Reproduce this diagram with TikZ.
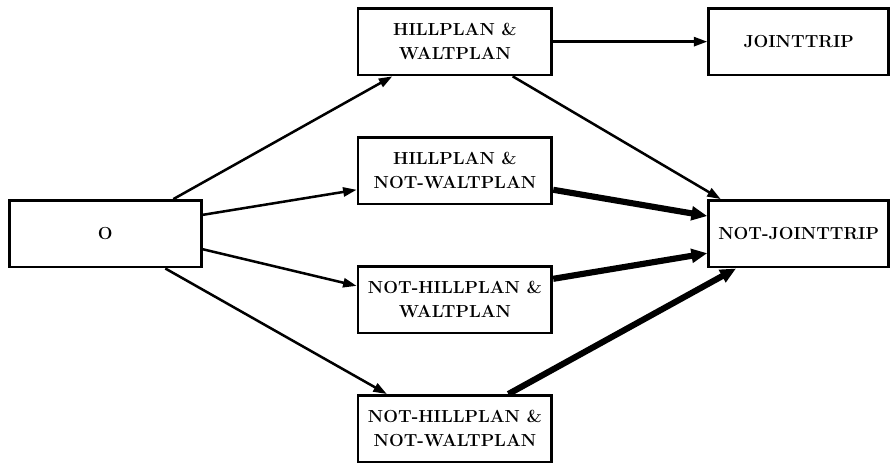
\documentclass[tikz,border=0pt]{standalone}
\usepackage{tikz}
\usetikzlibrary{arrows.meta,positioning}
\tikzset{
  state/.style={
    draw=black,
    line width=2pt,
    minimum width=4.875cm,
    minimum height=1.675cm,
    align=center,
    inner sep=2pt,
    font=\fontsize{12.5}{17}\selectfont\bfseries
  },
  outcome/.style={state, minimum width=4.525cm},
  link/.style={-{Triangle[length=3.4mm,width=2.3mm]}, line width=1.8pt},
  heavy/.style={-{Triangle[length=4mm,width=3.4mm]}, line width=4.4pt}
}

\begin{document}
\begin{tikzpicture}[node distance=1.5cm and 3.875cm]
  \node[state, minimum width=4.825cm] (origin) {O};
  \node[state, right=of origin, yshift=1.5875cm] (hillNotWalt) {HILLPLAN \&\\NOT-WALTPLAN};
  \node[state, above=of hillNotWalt] (hillWalt) {HILLPLAN \&\\WALTPLAN};
  \node[state, below=of hillNotWalt] (notHillWalt) {NOT-HILLPLAN \&\\WALTPLAN};
  \node[state, below=of notHillWalt] (notHillNotWalt) {NOT-HILLPLAN \&\\NOT-WALTPLAN};
  \node[outcome, right=of hillWalt] (joint) {JOINTTRIP};
  \node[outcome, right=of hillNotWalt, yshift=-1.5875cm] (notJoint) {NOT-JOINTTRIP};

  \path (origin.west |- hillWalt.north) coordinate (corner);
  \useasboundingbox ([shift={(-0.2cm,0.175cm)}]corner) rectangle ++(22.25cm,-11.45cm);

  \draw[link] (origin.27) -- (hillWalt.209);
  \draw[link] (origin.11) -- (hillNotWalt.191);
  \draw[link] (origin.351) -- (notHillWalt.172);
  \draw[link] (origin.330) -- (notHillNotWalt.153);
  \draw[link] (hillWalt) -- (joint);
  \draw[link] (hillWalt.329) -- (notJoint.156);
  \draw[heavy] (hillNotWalt.349) -- (notJoint.169);
  \draw[heavy] (notHillWalt.12) -- (notJoint.192);
  \draw[heavy] (notHillNotWalt.33) -- (notJoint.209);
\end{tikzpicture}
\end{document}
